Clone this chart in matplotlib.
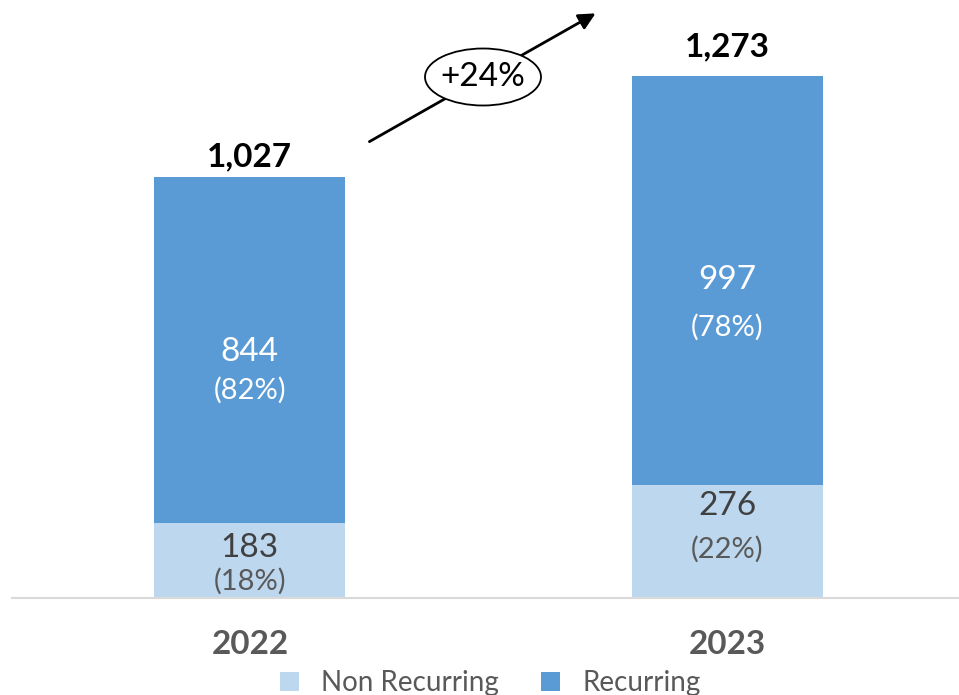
import matplotlib.pyplot as plt
from matplotlib.patches import Ellipse

plt.rcParams['font.family'] = ['Lato', 'DejaVu Sans']

# Datos
years = ['2022', '2023']
non_recurring = [183, 276]
recurring = [844, 997]
totals = [1027, 1273]
non_rec_pct = ['(18%)', '(22%)']
rec_pct = ['(82%)', '(78%)']
growth_label = '+24%'

color_non = '#BDD7EE'
color_rec = '#5B9BD5'

fig = plt.figure(figsize=(9.59, 6.95), dpi=100)
ax = fig.add_axes([12 / 959, 1 - 598 / 695, 1 - 12 / 959, 598 / 695])

x = range(len(years))
ax.bar(x, non_recurring, width=0.4, color=color_non, label='Non Recurring')
ax.bar(x, recurring, width=0.4, bottom=non_recurring, color=color_rec, label='Recurring')

ax.set_xlim(-0.498, 1.485)
ax.set_ylim(0, 1458)

# Etiquetas dentro de las barras (desplazamientos en pixeles)
rec_off = [(2, 40), (0, 47)]
non_off = [(-12, 21), (-35, 8)]
for i in x:
    mid = recurring[i] / 2 + non_recurring[i]
    ax.annotate(f'{recurring[i]}', (i, mid), xytext=(0, -rec_off[i][0]), textcoords='offset pixels',
                ha='center', va='center', fontsize=24, color='white')
    ax.annotate(rec_pct[i], (i, mid), xytext=(0, -rec_off[i][1]), textcoords='offset pixels',
                ha='center', va='center', fontsize=21, color='white')
    mid = non_recurring[i] / 2
    ax.annotate(f'{non_recurring[i]}', (i, mid), xytext=(0, -non_off[i][0]), textcoords='offset pixels',
                ha='center', va='center', fontsize=24, color='#404040')
    ax.annotate(non_rec_pct[i], (i, mid), xytext=(0, -non_off[i][1]), textcoords='offset pixels',
                ha='center', va='center', fontsize=21, color='#595959')
    ax.annotate(f'{totals[i]:,}', (i, totals[i]), xytext=(0, [20, 29][i]), textcoords='offset pixels',
                ha='center', va='center', fontsize=24, fontweight='bold', color='black')

# Ejes
for s in ['top', 'right', 'left']:
    ax.spines[s].set_visible(False)
ax.spines['bottom'].set_color('#D9D9D9')
ax.spines['bottom'].set_linewidth(1.5)
ax.set_yticks([])
ax.set_xticks(list(x))
ax.set_xticklabels(years, fontsize=24, fontweight='bold', color='#595959')
ax.tick_params(axis='x', length=0, pad=23)

# Flecha de crecimiento
fig.patches.append(Ellipse((483 / 959, 1 - 77 / 695), 116 / 959, 57 / 695,
                           transform=fig.transFigure, facecolor='white',
                           edgecolor='black', linewidth=1.3, zorder=3))
ax.annotate('', xy=(598 / 959, 1 - 12 / 695), xytext=(367 / 959, 1 - 143 / 695),
            xycoords='figure fraction', textcoords='figure fraction',
            arrowprops=dict(arrowstyle='-|>', color='black', lw=2, mutation_scale=25),
            zorder=2)
fig.text(483 / 959, 1 - 77 / 695, growth_label, ha='center', va='center',
         fontsize=24, color='black', zorder=4)

fig.legend(loc='center', bbox_to_anchor=(490 / 959, 1 - 683 / 695), ncol=2,
           frameon=False, fontsize=20, labelcolor='#595959',
           handlelength=0.7, handleheight=0.7, columnspacing=1.5, handletextpad=0.8)

plt.savefig('out.png', dpi=100)
